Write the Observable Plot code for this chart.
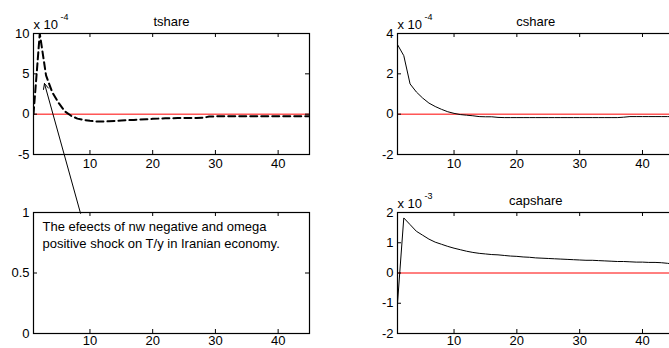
<!DOCTYPE html>
<html><head><meta charset="utf-8">
<script src="https://cdn.jsdelivr.net/npm/d3@7"></script>
<script src="https://cdn.jsdelivr.net/npm/@observablehq/plot@0.6"></script>
<style>
html,body{margin:0;padding:0;background:#fff;}
#fig{position:relative;width:669px;height:348px;overflow:hidden;background:#fff;}
#fig .panel{position:absolute;top:0;}
</style></head><body><div id="fig"></div>
<script>
// ---- data ----
const periods = d3.range(1, 46);
const xTicks = [10, 20, 30, 40];

// tshare, units of 1e-4
const tshare = [0.0, 10.0, 4.8, 2.7, 1.4, 0.35, -0.2, -0.55, -0.72, -0.83,
  -0.9, -0.92, -0.88, -0.83, -0.79, -0.75, -0.71, -0.67, -0.63, -0.58,
  -0.55, -0.52, -0.5, -0.49, -0.48, -0.47, -0.46, -0.45, -0.3, -0.27,
  -0.26, -0.26, -0.26, -0.26, -0.26, -0.26, -0.26, -0.26, -0.26, -0.26,
  -0.26, -0.26, -0.26, -0.26, -0.26];
const tshareTicks = [-5, 0, 5, 10];

// cshare, units of 1e-4
const cshare = [3.45, 2.9, 1.5, 1.1, 0.8, 0.55, 0.38, 0.24, 0.12, 0.04,
  -0.02, -0.05, -0.08, -0.12, -0.13, -0.13, -0.16, -0.17, -0.17, -0.17,
  -0.17, -0.17, -0.17, -0.17, -0.17, -0.17, -0.17, -0.17, -0.17, -0.17,
  -0.17, -0.17, -0.17, -0.17, -0.17, -0.17, -0.15, -0.12, -0.12, -0.12,
  -0.12, -0.12, -0.12, -0.12, -0.12];
const cshareTicks = [-2, 0, 2, 4];

// capshare, units of 1e-3
const capshare = [-1.0, 1.82, 1.6, 1.38, 1.25, 1.12, 1.02, 0.95, 0.88, 0.82,
  0.77, 0.72, 0.68, 0.65, 0.63, 0.61, 0.6, 0.58, 0.56, 0.55,
  0.53, 0.52, 0.5, 0.49, 0.48, 0.47, 0.46, 0.45, 0.44, 0.43,
  0.42, 0.42, 0.41, 0.4, 0.39, 0.38, 0.38, 0.37, 0.36, 0.36,
  0.35, 0.35, 0.34, 0.32, 0.29];
const capshareTicks = [-2, -1, 0, 1, 2];

const emptyTicks = [0, 0.5, 1];

const annotationText = "The efeects of nw negative and omega\npositive shock on T/y in Iranian economy.";
// arrow in tshare data coordinates (tail -> tip)
const annotationArrow = [{x1: 8.5, y1: -12.3, x2: 2.75, y2: 3.8}];

// ---- drawing ----
const FONT = "'Liberation Sans', Arial, sans-serif";
const fig = document.getElementById("fig");
const fmt = d => String(d);

function panel({left, mL, mR, mT, mB, yDomain, yTicks, title, exp, series, dashed, zero, xPad = 4, extra = []}) {
  const W = 340, H = 348;
  const fw = W - mL - mR, fh = H - mT - mB;
  const marks = [];
  if (zero) marks.push(Plot.ruleY([0], {stroke: "#ff0000", strokeWidth: 1}));
  if (series) marks.push(Plot.line(series, {x: (d, i) => periods[i], y: d => d,
    stroke: "black", strokeWidth: dashed ? 2 : 1, strokeDasharray: dashed ? "7,4" : null, clip: true}));
  marks.push(
    Plot.frame({stroke: "black", strokeWidth: 1.2}),
    Plot.tickX(xTicks, {x: d => d, insetTop: fh - 4, stroke: "black"}),
    Plot.tickX(xTicks, {x: d => d, insetBottom: fh - 4, stroke: "black"}),
    Plot.tickY(yTicks, {y: d => d, insetRight: fw - 4, stroke: "black"}),
    Plot.tickY(yTicks, {y: d => d, insetLeft: fw - 4, stroke: "black"}),
    Plot.axisX(xTicks, {tickSize: 0, tickPadding: xPad, tickFormat: fmt, fill: "black", fontSize: 13}),
    Plot.axisY(yTicks, {tickSize: 0, tickPadding: 4, tickFormat: fmt, fill: "black", fontSize: 13})
  );
  if (title) marks.push(Plot.text([title], {frameAnchor: "top", dy: -8, lineAnchor: "bottom", fontSize: 13, fill: "black"}));
  if (exp) {
    marks.push(Plot.text(["x 10"], {frameAnchor: "top-left", textAnchor: "start", lineAnchor: "bottom", dy: -5, fontSize: 13, fill: "black"}));
    marks.push(Plot.text([exp], {frameAnchor: "top-left", textAnchor: "start", lineAnchor: "bottom", dx: 27, dy: -14, fontSize: 9, fill: "black"}));
  }
  marks.push(...extra);
  const svg = Plot.plot({
    width: W, height: H,
    marginLeft: mL, marginRight: mR, marginTop: mT, marginBottom: mB,
    x: {domain: [1, 45], axis: null},
    y: {domain: yDomain, axis: null},
    style: {font: `13px ${FONT}`, background: "transparent", overflow: "visible", maxWidth: "none"},
    marks
  });
  svg.classList.add("panel");
  svg.style.left = left + "px";
  fig.appendChild(svg);
}

// top-left: tshare
panel({left: 0, mL: 33, mR: 31, mT: 33, mB: 194, yDomain: [-5, 10], yTicks: tshareTicks,
  title: "tshare", exp: "-4", series: tshare, dashed: true, zero: true,
  extra: [Plot.arrow(annotationArrow, {x1: "x1", y1: "y1", x2: "x2", y2: "y2", stroke: "black", strokeWidth: 1, headLength: 9, headAngle: 50})]});

// bottom-left: empty with annotation
panel({left: 0, mL: 33, mR: 31, mT: 212, mB: 15, yDomain: [0, 1], yTicks: emptyTicks, xPad: 2,
  extra: [Plot.text([annotationText], {frameAnchor: "top-left", textAnchor: "start", lineAnchor: "top", dx: 9, dy: 7, lineHeight: 1.28, fontSize: 13, fill: "black"})]});

// top-right: cshare
panel({left: 340, mL: 57, mR: 6.6, mT: 33, mB: 194, yDomain: [-2, 4], yTicks: cshareTicks,
  title: "cshare", exp: "-4", series: cshare, zero: true});

// bottom-right: capshare
panel({left: 340, mL: 57, mR: 6.6, mT: 212, mB: 15, yDomain: [-2, 2], yTicks: capshareTicks, xPad: 2,
  title: "capshare", exp: "-3", series: capshare, zero: true});
</script></body></html>
